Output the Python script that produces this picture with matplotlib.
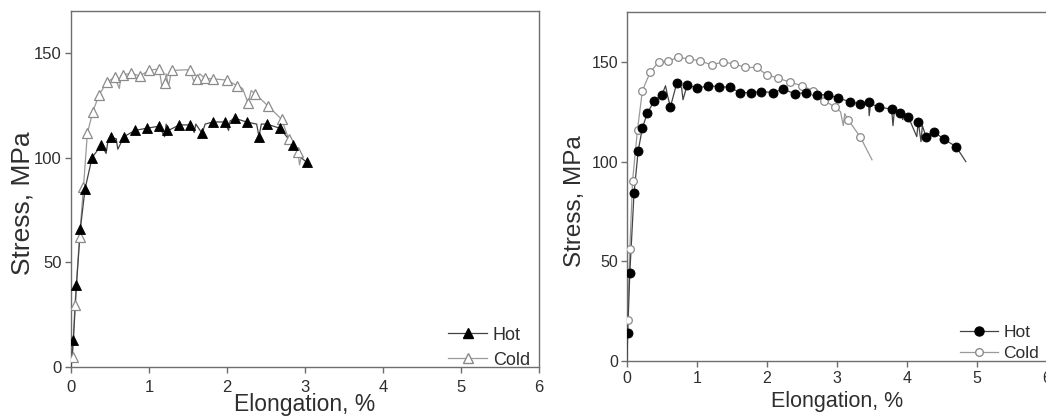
import matplotlib
matplotlib.use("Agg")
import matplotlib.pyplot as plt
from matplotlib.lines import Line2D

plt.rcParams['font.family'] = ['Liberation Sans', 'DejaVu Sans']

# ---------------- Left panel data ----------------
L_hot_mx = [0.03, 0.07, 0.12, 0.18, 0.27, 0.39, 0.51, 0.68, 0.82, 0.97, 1.13, 1.23, 1.39, 1.53,
            1.68, 1.82, 1.97, 2.10, 2.25, 2.41, 2.51, 2.68, 2.85, 3.02]
L_hot_my = [13, 39, 66, 85, 100, 106, 109.6, 110, 113, 114, 115, 113, 115.6, 115.6,
            111.6, 117, 117, 118.8, 117, 110, 116, 114, 106, 97.8]
L_hot_lx = [0.0, 0.03, 0.07, 0.12, 0.18, 0.27, 0.39, 0.45, 0.47, 0.51, 0.58, 0.60, 0.68, 0.82,
            0.97, 1.13, 1.20, 1.22, 1.25, 1.39, 1.53, 1.58, 1.60, 1.68, 1.72, 1.82, 1.97, 2.02,
            2.04, 2.10, 2.25, 2.38, 2.41, 2.44, 2.51, 2.68, 2.85, 2.95, 3.02]
L_hot_ly = [0, 13, 39, 66, 85, 100, 106, 102, 107, 109.6, 109, 104, 110, 113,
            114, 115, 110, 116, 113, 115.6, 115.6, 112, 116, 111.6, 116, 117, 117, 113,
            117.5, 118.8, 117, 116, 110, 116, 116, 114, 106, 100, 97.8]

L_cold_mx = [0.02, 0.05, 0.11, 0.16, 0.21, 0.28, 0.36, 0.46, 0.56, 0.67, 0.77, 0.88, 1.00, 1.13,
             1.20, 1.29, 1.52, 1.61, 1.72, 1.82, 2.00, 2.13, 2.27, 2.36, 2.53, 2.70, 2.79, 2.91]
L_cold_my = [4.6, 29.6, 62, 86, 111.6, 122, 130, 136, 138.4, 139.5, 140.3, 139, 141.6, 142.4,
             135.5, 141.6, 142, 137.4, 137.8, 137.6, 137, 134.3, 126, 130.5, 124.5, 118.3, 109, 102.5]
L_cold_lx = [0.0, 0.02, 0.05, 0.11, 0.16, 0.21, 0.28, 0.36, 0.46, 0.56, 0.62, 0.64, 0.67, 0.77,
             0.88, 1.00, 1.13, 1.17, 1.20, 1.22, 1.25, 1.29, 1.52, 1.58, 1.61, 1.65, 1.72, 1.82,
             2.00, 2.13, 2.20, 2.27, 2.31, 2.36, 2.53, 2.70, 2.79, 2.91, 2.93, 2.95]
L_cold_ly = [0, 4.6, 29.6, 62, 86, 111.6, 122, 130, 136, 138.4, 133, 139, 139.5, 140.3,
             139, 141.6, 142.4, 133, 135.5, 140, 134, 141.6, 142, 136, 137.4, 140, 137.8, 137.6,
             137, 134.3, 133, 126, 132, 130.5, 124.5, 118.3, 109, 102.5, 96.5, 100]

# ---------------- Right panel data ----------------
R_hot_mx = [0.01, 0.04, 0.10, 0.16, 0.22, 0.29, 0.39, 0.50, 0.62, 0.71, 0.86, 1.00, 1.16, 1.31,
            1.47, 1.61, 1.77, 1.92, 2.09, 2.23, 2.40, 2.56, 2.72, 2.87, 3.02, 3.18, 3.33, 3.45,
            3.60, 3.78, 3.90, 4.02, 4.16, 4.27, 4.38, 4.53, 4.70]
R_hot_my = [13.9, 44, 84, 105.5, 116.8, 124.3, 130.5, 133.5, 127.3, 139.3, 138.5, 136.8, 138, 137.6,
            137.3, 134.6, 134.6, 135.1, 134.6, 136.3, 134, 134.6, 133.5, 133.5, 131.8, 130.1, 128.8, 130.1,
            127.3, 126.3, 124.6, 122.3, 120, 112.5, 115, 111.2, 107.5]
R_hot_lx = [0.0, 0.01, 0.04, 0.10, 0.16, 0.22, 0.29, 0.39, 0.50, 0.55, 0.58, 0.62, 0.71, 0.78,
            0.80, 0.86, 1.00, 1.16, 1.31, 1.47, 1.61, 1.77, 1.92, 2.09, 2.23, 2.40, 2.56, 2.72,
            2.87, 3.02, 3.18, 3.33, 3.45, 3.46, 3.48, 3.60, 3.78, 3.80, 3.82, 3.90, 3.94, 3.96,
            4.02, 4.14, 4.16, 4.20, 4.22, 4.27, 4.38, 4.53, 4.70, 4.84]
R_hot_ly = [0, 13.9, 44, 84, 105.5, 116.8, 124.3, 130.5, 133.5, 138, 133, 127.3, 139.3, 137,
            131, 138.5, 136.8, 138, 137.6, 137.3, 134.6, 134.6, 135.1, 134.6, 136.3, 134, 134.6, 133.5,
            133.5, 131.8, 130.1, 128.8, 130.1, 123, 129, 127.3, 126.3, 118, 125.5, 124.6, 121, 124,
            122.3, 112.5, 120, 110, 118, 112.5, 115, 111.2, 107.5, 100]

R_cold_mx = [0.01, 0.04, 0.08, 0.15, 0.22, 0.33, 0.45, 0.59, 0.73, 0.89, 1.04, 1.21, 1.37, 1.53,
             1.69, 1.85, 2.00, 2.16, 2.33, 2.50, 2.66, 2.82, 2.97, 3.16, 3.33]
R_cold_my = [20.6, 56, 90.5, 116, 135.6, 144.7, 149.9, 150.5, 152.2, 151.5, 150.5, 148.5, 149.9, 149,
             147.2, 147.2, 143.5, 141.8, 139.8, 138, 135.6, 130.6, 127.3, 120.9, 112.5]
R_cold_lx = R_cold_mx[:23] + [3.05, 3.09, 3.11, 3.16, 3.33, 3.50]
R_cold_ly = R_cold_my[:23] + [125, 118, 124, 120.9, 112.5, 100.9]

ticks_x = [0, 1, 2, 3, 4, 5, 6]
ticks_y = [0, 50, 100, 150]

W, H = 1046, 418
fig = plt.figure(figsize=(W / 100, H / 100), dpi=100)

axL = fig.add_axes([71 / W, 1 - 367 / H, 468 / W, 356 / H])
axR = fig.add_axes([627 / W, 1 - 361 / H, 420 / W, 349 / H])

spine_c = '#6e6e6e'
text_c = '#2e2e2e'

# Left panel
axL.plot(L_cold_lx, L_cold_ly, color='#9a9a9a', lw=0.9, zorder=2)
axL.plot(L_hot_lx, L_hot_ly, color='#444444', lw=0.9, zorder=3)
axL.plot(L_cold_mx, L_cold_my, ls='none', marker='^', ms=6.5, mfc='white', mec='#8a8a8a', mew=0.9, zorder=4)
axL.plot(L_hot_mx, L_hot_my, ls='none', marker='^', ms=6.5, mfc='black', mec='black', mew=0.6, zorder=5)
hL = [Line2D([], [], color='#444444', lw=0.9, marker='^', ms=6.5, mfc='black', mec='black'),
      Line2D([], [], color='#9a9a9a', lw=0.9, marker='^', ms=6.5, mfc='white', mec='#8a8a8a')]
axL.legend(hL, ['Hot', 'Cold'], loc='lower left', bbox_to_anchor=(0.805, -0.005), frameon=False,
           fontsize=13, handlelength=2.2, handletextpad=0.3, labelspacing=0.45, borderpad=0.0,
           borderaxespad=0.0, labelcolor=text_c)
axL.set_xlim(0, 6)
axL.set_ylim(0, 170)
axL.set_xlabel('Elongation, %', fontsize=16.5, color=text_c)
axL.set_ylabel('Stress, MPa', fontsize=19, color=text_c)
axL.xaxis.set_label_coords(0.5, -0.072)
axL.yaxis.set_label_coords(-0.077, 0.46)
axL.tick_params(axis='x', length=4, width=1, pad=5, labelsize=12, colors=text_c)
axL.tick_params(axis='y', length=4, width=1, pad=2.5, labelsize=12, colors=text_c)

# Right panel
axR.plot(R_cold_lx, R_cold_ly, color='#9a9a9a', lw=0.9, zorder=2)
axR.plot(R_hot_lx, R_hot_ly, color='#444444', lw=0.9, zorder=3)
axR.plot(R_cold_mx, R_cold_my, ls='none', marker='o', ms=5.5, mfc='white', mec='#8a8a8a', mew=0.9, zorder=4)
axR.plot(R_hot_mx, R_hot_my, ls='none', marker='o', ms=6.5, mfc='black', mec='black', mew=0.6, zorder=5)
hR = [Line2D([], [], color='#444444', lw=0.9, marker='o', ms=6.5, mfc='black', mec='black'),
      Line2D([], [], color='#9a9a9a', lw=0.9, marker='o', ms=5.5, mfc='white', mec='#8a8a8a')]
axR.legend(hR, ['Hot', 'Cold'], loc='lower left', bbox_to_anchor=(0.793, 0.0), frameon=False,
           fontsize=12.5, handlelength=2.2, handletextpad=0.3, labelspacing=0.35, borderpad=0.0,
           borderaxespad=0.0, labelcolor=text_c)
axR.set_xlim(0, 6)
axR.set_ylim(0, 175)
axR.set_xlabel('Elongation, %', fontsize=15.5, color=text_c)
axR.set_ylabel('Stress, MPa', fontsize=17.5, color=text_c)
axR.xaxis.set_label_coords(0.5, -0.086)
axR.yaxis.set_label_coords(-0.097, 0.458)
axR.tick_params(axis='x', length=4, width=1, pad=3.5, labelsize=11.5, colors=text_c)
axR.tick_params(axis='y', length=4, width=1, pad=2.5, labelsize=11.5, colors=text_c)

for ax in (axL, axR):
    ax.set_xticks(ticks_x)
    ax.set_yticks(ticks_y)
    for s in ax.spines.values():
        s.set_color(spine_c)
        s.set_linewidth(1.0)
    ax.tick_params(axis='both', color=spine_c)

fig.savefig('out.png', dpi=100)
